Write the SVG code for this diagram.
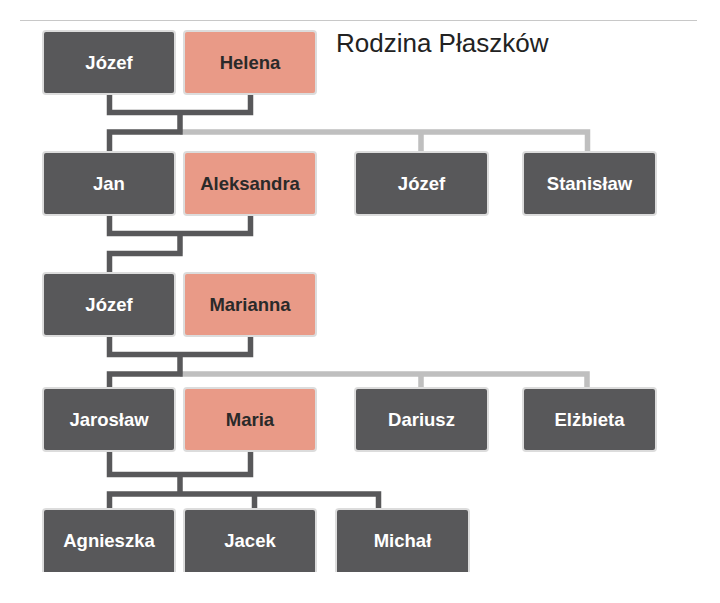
<svg xmlns="http://www.w3.org/2000/svg" width="720" height="603" viewBox="0 0 720 603">
<defs>
<style>
.m rect{fill:#58585a;stroke:#dcdcdc;stroke-width:2}
.f rect{fill:#e99a87;stroke:#dcdcdc;stroke-width:2}
.m text,.f text{font-family:"Liberation Sans",Arial,sans-serif;font-weight:bold;font-size:18.5px;text-anchor:middle}
.m text{fill:#ffffff}
.f text{fill:#2a2a2a}
.d{fill:none;stroke:#58585a;stroke-width:5.5;stroke-linejoin:miter;stroke-linecap:butt}
.l{fill:none;stroke:#bfbfbf;stroke-width:5.5;stroke-linecap:butt}
</style>
<clipPath id="cut"><rect x="0" y="0" width="720" height="572"/></clipPath>
</defs>
<rect width="720" height="603" fill="#ffffff"/>
<line x1="20" y1="20.5" x2="697" y2="20.5" stroke="#c8c8c8" stroke-width="1"/>
<text x="336" y="52" font-family="Liberation Sans,Arial,sans-serif" font-size="26" fill="#222222">Rodzina Płaszków</text>

<g id="connectors">
<path class="l" d="M180 132 H587.5 V152 M421 132 V152"/>
<path class="d" d="M109.5 94 V112.5 H250.5 V94 M180 112.5 V132 M109.5 152 V132 H182.7"/>
<path class="d" d="M109.5 215 V233.5 H250.5 V215 M180 233.5 V253.5 M109.5 273 V253.5 H182.7"/>
<path class="l" d="M180 374 H587 V388 M421 374 V388"/>
<path class="d" d="M109.5 336 V354.5 H250.5 V336 M180 354.5 V374 M109.5 388 V374 H182.7"/>
<path class="d" d="M109.5 451 V474.5 H250.5 V451 M180 474.5 V494 M109.5 509 V494 H378.5 V509 M254.5 494 V509"/>
</g>

<g id="jozef1" class="m"><rect x="43" y="31" width="132" height="63" rx="3"/><text x="109" y="69">Józef</text></g>
<g id="helena" class="f"><rect x="184" y="31" width="132" height="63" rx="3"/><text x="250" y="69">Helena</text></g>

<g id="jan" class="m"><rect x="43" y="152" width="132" height="63" rx="3"/><text x="109" y="190">Jan</text></g>
<g id="aleksandra" class="f"><rect x="184" y="152" width="132" height="63" rx="3"/><text x="250" y="190">Aleksandra</text></g>
<g id="jozef2" class="m"><rect x="355" y="152" width="133" height="63" rx="3"/><text x="421.5" y="190">Józef</text></g>
<g id="stanislaw" class="m"><rect x="523" y="152" width="133" height="63" rx="3"/><text x="589.5" y="190">Stanisław</text></g>

<g id="jozef3" class="m"><rect x="43" y="273" width="132" height="63" rx="3"/><text x="109" y="311">Józef</text></g>
<g id="marianna" class="f"><rect x="184" y="273" width="132" height="63" rx="3"/><text x="250" y="311">Marianna</text></g>

<g id="jaroslaw" class="m"><rect x="43" y="388" width="132" height="63" rx="3"/><text x="109" y="426">Jarosław</text></g>
<g id="maria" class="f"><rect x="184" y="388" width="132" height="63" rx="3"/><text x="250" y="426">Maria</text></g>
<g id="dariusz" class="m"><rect x="355" y="388" width="133" height="63" rx="3"/><text x="421.5" y="426">Dariusz</text></g>
<g id="elzbieta" class="m"><rect x="523" y="388" width="133" height="63" rx="3"/><text x="589.5" y="426">Elżbieta</text></g>

<g clip-path="url(#cut)">
<g id="agnieszka" class="m"><rect x="43" y="509" width="132" height="66" rx="3"/><text x="109" y="547">Agnieszka</text></g>
<g id="jacek" class="m"><rect x="184" y="509" width="132" height="66" rx="3"/><text x="250" y="547">Jacek</text></g>
<g id="michal" class="m"><rect x="336" y="509" width="133" height="66" rx="3"/><text x="402.5" y="547">Michał</text></g>
</g>
</svg>
